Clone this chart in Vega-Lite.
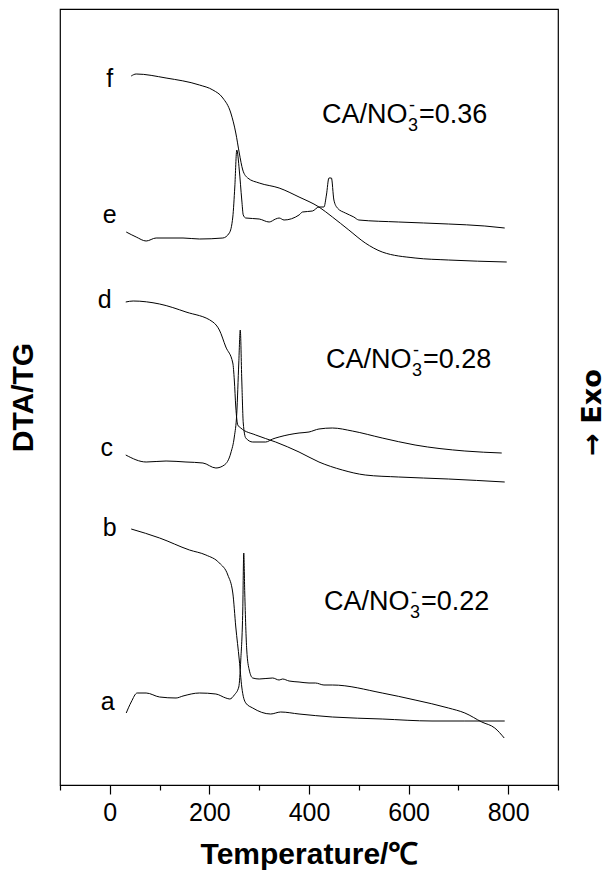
{
  "$schema": "https://vega.github.io/schema/vega-lite/v6.json",
  "width": 498,
  "height": 776,
  "autosize": {"type": "none"},
  "padding": {"left": 60, "top": 9, "right": 50, "bottom": 90},
  "background": "white",
  "config": {
    "view": {"stroke": "black", "strokeWidth": 1.2},
    "font": "Liberation Sans",
    "text": {"font": "Liberation Sans"}
  },
  "datasets": {
    "curves": [
      {"s": "f", "T": 43, "v": 709}, {"s": "f", "T": 53, "v": 711}, {"s": "f", "T": 113, "v": 707}, {"s": "f", "T": 180, "v": 700},
      {"s": "f", "T": 207, "v": 695}, {"s": "f", "T": 227, "v": 687}, {"s": "f", "T": 243, "v": 672}, {"s": "f", "T": 253, "v": 652},
      {"s": "f", "T": 260, "v": 632}, {"s": "f", "T": 267, "v": 615}, {"s": "f", "T": 277, "v": 607}, {"s": "f", "T": 300, "v": 602},
      {"s": "f", "T": 340, "v": 597}, {"s": "f", "T": 380, "v": 588}, {"s": "f", "T": 420, "v": 578}, {"s": "f", "T": 447, "v": 568},
      {"s": "f", "T": 480, "v": 555}, {"s": "f", "T": 513, "v": 542}, {"s": "f", "T": 547, "v": 533}, {"s": "f", "T": 613, "v": 527},
      {"s": "f", "T": 680, "v": 525}, {"s": "f", "T": 797, "v": 523},

      {"s": "e", "T": 33, "v": 553}, {"s": "e", "T": 53, "v": 548}, {"s": "e", "T": 73, "v": 544}, {"s": "e", "T": 93, "v": 547},
      {"s": "e", "T": 147, "v": 547}, {"s": "e", "T": 180, "v": 546}, {"s": "e", "T": 227, "v": 547}, {"s": "e", "T": 240, "v": 552},
      {"s": "e", "T": 247, "v": 568}, {"s": "e", "T": 251, "v": 598}, {"s": "e", "T": 255, "v": 635}, {"s": "e", "T": 260, "v": 615},
      {"s": "e", "T": 265, "v": 585}, {"s": "e", "T": 268, "v": 570}, {"s": "e", "T": 273, "v": 567}, {"s": "e", "T": 300, "v": 566},
      {"s": "e", "T": 320, "v": 563}, {"s": "e", "T": 333, "v": 566}, {"s": "e", "T": 340, "v": 567}, {"s": "e", "T": 350, "v": 565},
      {"s": "e", "T": 380, "v": 570}, {"s": "e", "T": 387, "v": 573}, {"s": "e", "T": 407, "v": 574}, {"s": "e", "T": 420, "v": 578},
      {"s": "e", "T": 430, "v": 578}, {"s": "e", "T": 435, "v": 590}, {"s": "e", "T": 440, "v": 607}, {"s": "e", "T": 445, "v": 607},
      {"s": "e", "T": 450, "v": 585}, {"s": "e", "T": 457, "v": 577}, {"s": "e", "T": 473, "v": 572}, {"s": "e", "T": 490, "v": 568},
      {"s": "e", "T": 500, "v": 565}, {"s": "e", "T": 580, "v": 563}, {"s": "e", "T": 680, "v": 561}, {"s": "e", "T": 753, "v": 559},
      {"s": "e", "T": 793, "v": 557},

      {"s": "d", "T": 32, "v": 483}, {"s": "d", "T": 47, "v": 484}, {"s": "d", "T": 100, "v": 481}, {"s": "d", "T": 153, "v": 473},
      {"s": "d", "T": 207, "v": 463}, {"s": "d", "T": 220, "v": 455}, {"s": "d", "T": 233, "v": 438}, {"s": "d", "T": 247, "v": 422},
      {"s": "d", "T": 250, "v": 405}, {"s": "d", "T": 253, "v": 378}, {"s": "d", "T": 257, "v": 360}, {"s": "d", "T": 263, "v": 357},
      {"s": "d", "T": 293, "v": 350}, {"s": "d", "T": 333, "v": 343}, {"s": "d", "T": 380, "v": 333}, {"s": "d", "T": 420, "v": 323},
      {"s": "d", "T": 467, "v": 315}, {"s": "d", "T": 513, "v": 310}, {"s": "d", "T": 580, "v": 308}, {"s": "d", "T": 680, "v": 306},
      {"s": "d", "T": 793, "v": 303},

      {"s": "c", "T": 32, "v": 330}, {"s": "c", "T": 73, "v": 323}, {"s": "c", "T": 113, "v": 324}, {"s": "c", "T": 153, "v": 323},
      {"s": "c", "T": 187, "v": 322}, {"s": "c", "T": 213, "v": 317}, {"s": "c", "T": 230, "v": 320}, {"s": "c", "T": 243, "v": 332},
      {"s": "c", "T": 250, "v": 348}, {"s": "c", "T": 255, "v": 372}, {"s": "c", "T": 259, "v": 422}, {"s": "c", "T": 262, "v": 455},
      {"s": "c", "T": 265, "v": 405}, {"s": "c", "T": 268, "v": 362}, {"s": "c", "T": 273, "v": 347}, {"s": "c", "T": 287, "v": 343},
      {"s": "c", "T": 313, "v": 343}, {"s": "c", "T": 327, "v": 346}, {"s": "c", "T": 340, "v": 348}, {"s": "c", "T": 380, "v": 352},
      {"s": "c", "T": 400, "v": 353}, {"s": "c", "T": 420, "v": 356}, {"s": "c", "T": 447, "v": 357}, {"s": "c", "T": 487, "v": 354},
      {"s": "c", "T": 547, "v": 347}, {"s": "c", "T": 613, "v": 340}, {"s": "c", "T": 713, "v": 334}, {"s": "c", "T": 787, "v": 332},

      {"s": "b", "T": 43, "v": 256}, {"s": "b", "T": 100, "v": 247}, {"s": "b", "T": 160, "v": 235}, {"s": "b", "T": 193, "v": 230},
      {"s": "b", "T": 220, "v": 222}, {"s": "b", "T": 237, "v": 210}, {"s": "b", "T": 247, "v": 192}, {"s": "b", "T": 253, "v": 158},
      {"s": "b", "T": 260, "v": 125}, {"s": "b", "T": 265, "v": 98}, {"s": "b", "T": 273, "v": 82}, {"s": "b", "T": 287, "v": 77},
      {"s": "b", "T": 323, "v": 71}, {"s": "b", "T": 343, "v": 73}, {"s": "b", "T": 380, "v": 71}, {"s": "b", "T": 447, "v": 68},
      {"s": "b", "T": 547, "v": 66}, {"s": "b", "T": 647, "v": 64}, {"s": "b", "T": 713, "v": 64}, {"s": "b", "T": 793, "v": 64},

      {"s": "a", "T": 33, "v": 72}, {"s": "a", "T": 43, "v": 83}, {"s": "a", "T": 55, "v": 92}, {"s": "a", "T": 73, "v": 92},
      {"s": "a", "T": 100, "v": 88}, {"s": "a", "T": 133, "v": 87}, {"s": "a", "T": 147, "v": 89}, {"s": "a", "T": 180, "v": 92},
      {"s": "a", "T": 213, "v": 91}, {"s": "a", "T": 233, "v": 87}, {"s": "a", "T": 241, "v": 86}, {"s": "a", "T": 250, "v": 90},
      {"s": "a", "T": 259, "v": 98}, {"s": "a", "T": 263, "v": 125}, {"s": "a", "T": 267, "v": 175}, {"s": "a", "T": 269, "v": 232},
      {"s": "a", "T": 271, "v": 192}, {"s": "a", "T": 275, "v": 135}, {"s": "a", "T": 280, "v": 115}, {"s": "a", "T": 287, "v": 107},
      {"s": "a", "T": 300, "v": 106}, {"s": "a", "T": 327, "v": 107}, {"s": "a", "T": 340, "v": 105}, {"s": "a", "T": 347, "v": 106},
      {"s": "a", "T": 360, "v": 104}, {"s": "a", "T": 380, "v": 103}, {"s": "a", "T": 400, "v": 102}, {"s": "a", "T": 413, "v": 102},
      {"s": "a", "T": 430, "v": 100}, {"s": "a", "T": 447, "v": 100}, {"s": "a", "T": 547, "v": 92}, {"s": "a", "T": 613, "v": 85},
      {"s": "a", "T": 680, "v": 77}, {"s": "a", "T": 713, "v": 72}, {"s": "a", "T": 747, "v": 63}, {"s": "a", "T": 773, "v": 57},
      {"s": "a", "T": 792, "v": 47}
    ],
    "labels": [
      {"label": "f", "T": 0, "v": 706},
      {"label": "e", "T": 0, "v": 570},
      {"label": "d", "T": -10, "v": 485},
      {"label": "c", "T": -6, "v": 337},
      {"label": "b", "T": 0, "v": 257},
      {"label": "a", "T": -4, "v": 83}
    ],
    "ratios": [
      {"T": 426, "v": 662, "r": "=0.36"},
      {"T": 434, "v": 417, "r": "=0.28"},
      {"T": 430, "v": 175, "r": "=0.22"}
    ]
  },
  "layer": [
    {
      "data": {"name": "curves"},
      "mark": {"type": "line", "color": "black", "strokeWidth": 1, "interpolate": "monotone"},
      "encoding": {
        "x": {
          "field": "T", "type": "quantitative",
          "scale": {"domain": [-100, 900], "nice": false, "zero": false},
          "axis": {
            "title": "Temperature/℃",
            "titleFont": "Liberation Sans", "titleFontSize": 30, "titleFontWeight": "bold", "titleColor": "black",
            "titlePadding": 14,
            "values": [-100, 0, 100, 200, 300, 400, 500, 600, 700, 800, 900],
            "labelExpr": "datum.value % 200 === 0 ? datum.label : ''",
            "labelFont": "Liberation Sans", "labelFontSize": 25, "labelColor": "black", "labelPadding": 6,
            "labelFlush": false, "labelOverlap": false,
            "tickColor": "black", "tickWidth": 1.2,
            "tickSize": {"condition": {"test": "datum.value % 200 === 0", "value": 9}, "value": 5},
            "domainColor": "black", "domainWidth": 1.2, "grid": false
          }
        },
        "y": {
          "field": "v", "type": "quantitative",
          "scale": {"domain": [0, 776], "nice": false, "zero": false},
          "axis": {
            "title": "DTA/TG",
            "titleFont": "Liberation Sans", "titleFontSize": 30, "titleFontWeight": "bold", "titleColor": "black",
            "titlePadding": 22,
            "labels": false, "ticks": false, "domain": false, "grid": false
          }
        },
        "detail": {"field": "s"}
      }
    },
    {
      "data": {"name": "labels"},
      "mark": {"type": "text", "fontSize": 25, "color": "black", "align": "center", "baseline": "middle"},
      "encoding": {
        "x": {"field": "T", "type": "quantitative"},
        "y": {"field": "v", "type": "quantitative", "scale": {"domain": [0, 776], "nice": false, "zero": false}, "axis": null},
        "text": {"field": "label"}
      }
    },
    {
      "data": {"name": "ratios"},
      "encoding": {
        "x": {"field": "T", "type": "quantitative"},
        "y": {"field": "v", "type": "quantitative", "scale": {"domain": [0, 776], "nice": false, "zero": false}, "axis": null}
      },
      "layer": [
        {"mark": {"type": "text", "fontSize": 27, "color": "black", "align": "left", "baseline": "alphabetic"},
         "encoding": {"text": {"value": "CA/NO"}}},
        {"mark": {"type": "text", "fontSize": 18, "color": "black", "align": "left", "baseline": "alphabetic", "dx": 86, "dy": 8},
         "encoding": {"text": {"value": "3"}}},
        {"mark": {"type": "text", "fontSize": 18, "color": "black", "align": "left", "baseline": "alphabetic", "dx": 87, "dy": -12},
         "encoding": {"text": {"value": "-"}}},
        {"mark": {"type": "text", "fontSize": 27, "color": "black", "align": "left", "baseline": "alphabetic", "dx": 97},
         "encoding": {"text": {"field": "r"}}}
      ]
    },
    {
      "data": {"name": "labels"},
      "mark": {"type": "point", "opacity": 0},
      "encoding": {
        "x": {"field": "T", "type": "quantitative"},
        "y": {
          "field": "v", "type": "quantitative",
          "scale": {"domain": [0, 776], "nice": false, "zero": false},
          "axis": {
            "orient": "right", "title": "→ Exo",
            "titleFont": "DejaVu Sans", "titleFontSize": 27, "titleFontWeight": "bold", "titleColor": "black",
            "titleAngle": -90, "titlePadding": 48, "titleY": 403,
            "labels": false, "ticks": false, "domain": false, "grid": false
          }
        }
      }
    }
  ],
  "resolve": {"scale": {"y": "independent"}}
}
